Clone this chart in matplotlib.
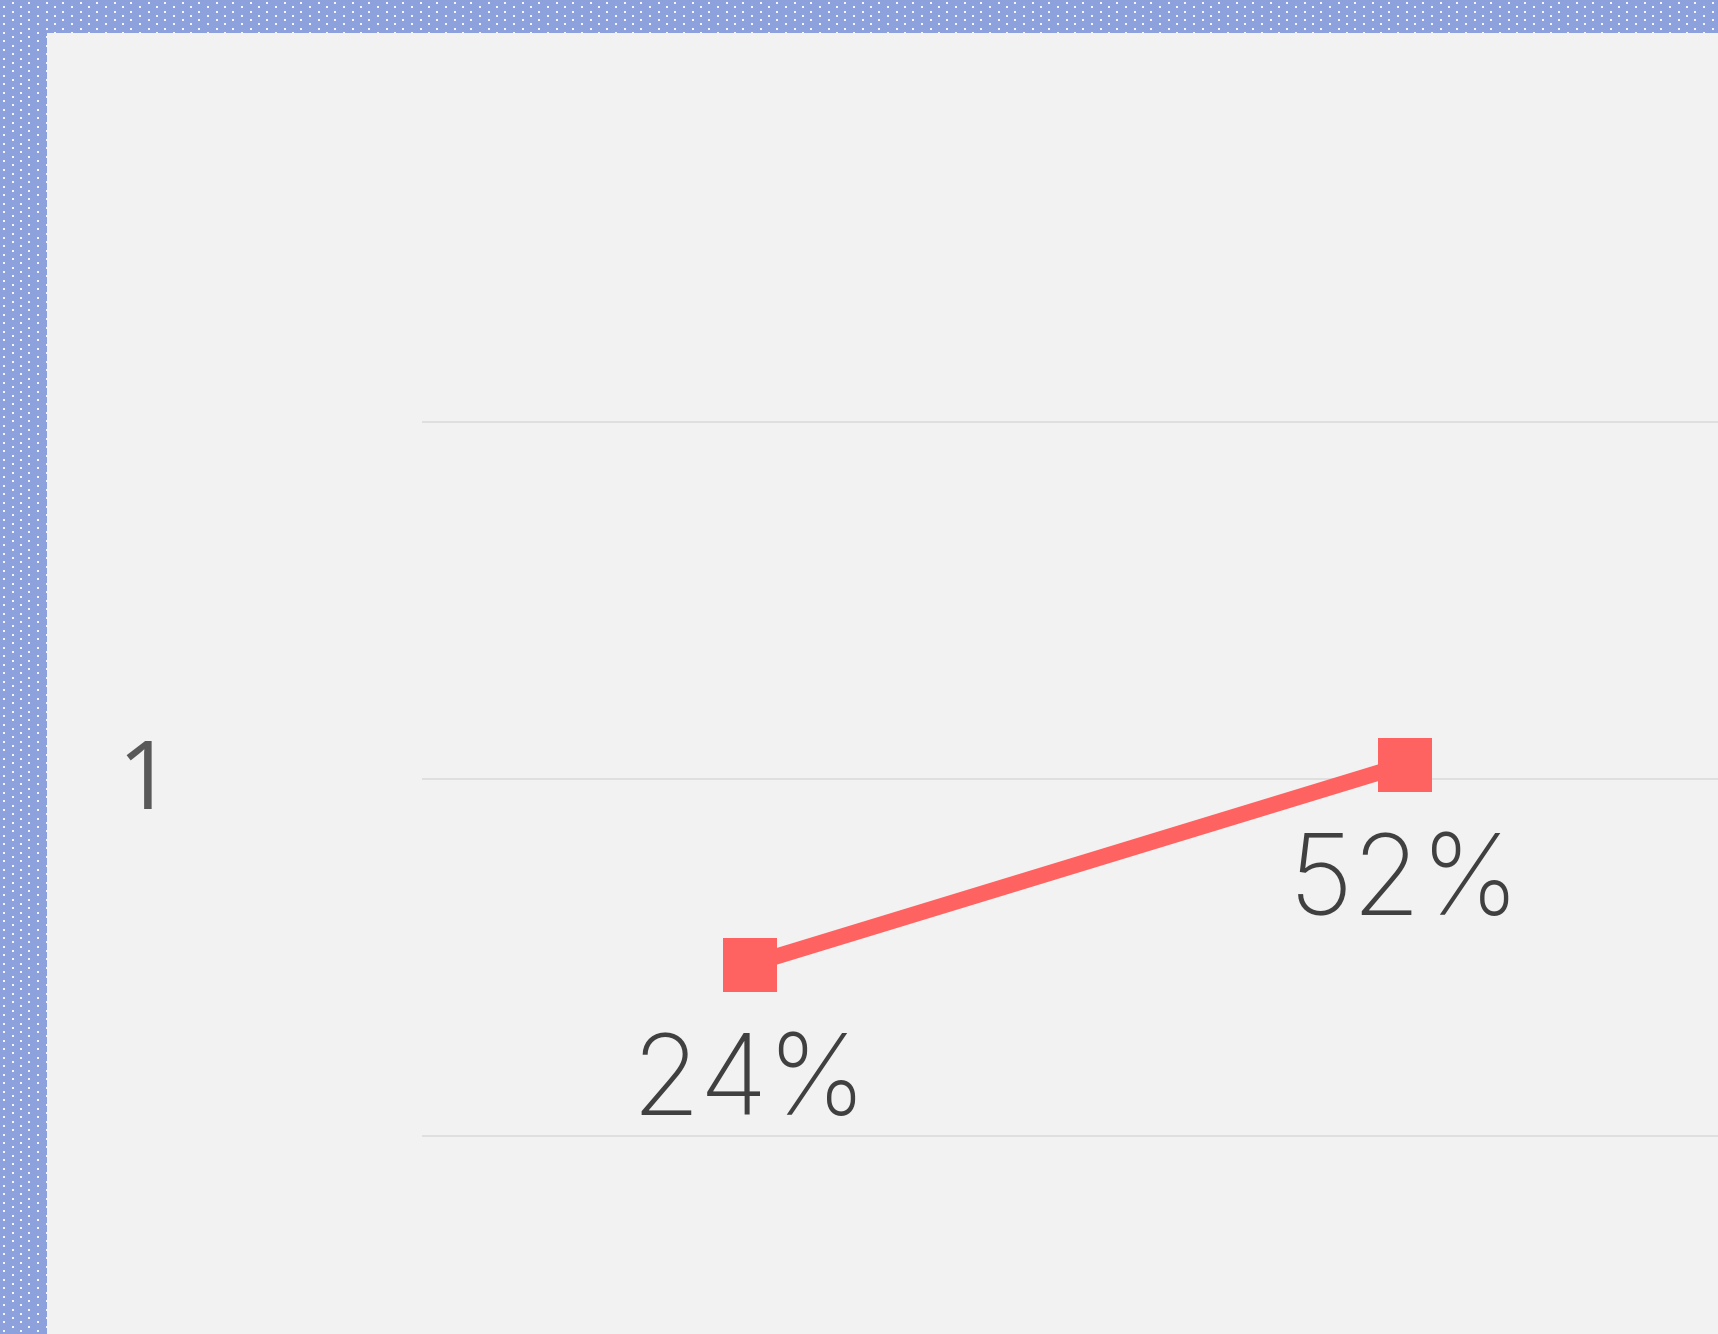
import matplotlib

matplotlib.use("Agg")

import matplotlib.pyplot as plt
import numpy as np
from matplotlib.transforms import ScaledTranslation

plt.rcParams["font.family"] = ["Open Sans", "DejaVu Sans"]

# data
categories = ["A", "B"]
values = [0.24, 0.52]
value_labels = ["24%", "52%"]
y_ticks = [0.0, 0.5, 1.0]
y_tick_labels = ["", "1", ""]

W, H, DPI = 1718, 1334, 100
LINE_RED = "#ff6361"
BORDER_BLUE = (0x8D, 0xA1, 0xDD)
DOT_WHITE = (0xF4, 0xF6, 0xFC)
PANEL_GREY = (0xF2, 0xF2, 0xF2)


def make_backdrop() -> np.ndarray:
    # dotted blue frame with the grey panel cut out of it
    img = np.empty((H, W, 3), dtype=np.uint8)
    img[:] = BORDER_BLUE
    for i, y in enumerate(np.arange(2.0, H, 4.27)):
        start = 11.5 if i % 2 == 0 else 3.0
        yi = int(round(y))
        for x in np.arange(start, W, 17.0):
            xi = int(round(x))
            img[yi:yi + 2, xi:xi + 2] = DOT_WHITE
    img[33:, 47:] = PANEL_GREY
    return img


fig = plt.figure(figsize=(W / DPI, H / DPI), dpi=DPI)
fig.figimage(make_backdrop(), xo=0, yo=0, zorder=-10)

ax = fig.add_axes([422 / W, 0, 1 - 422 / W, (H - 33) / H])
ax.set_facecolor("none")

x = np.arange(len(categories))
ax.plot(x, values, color=LINE_RED, lw=11.5, marker="s", ms=39, mew=0,
        solid_capstyle="butt", zorder=3)

for xi, v, label in zip(x, values, value_labels):
    ax.annotate(label, (xi, v), xytext=(0, -108), textcoords="offset points",
                ha="center", va="baseline", fontsize=80, color="#404040",
                fontfamily="Inter", fontweight="light")

ax.set_xlim(-0.5, -0.5 + (W - 422) / 655)
ax.set_ylim((1136 - H) / 714, (1136 - 33) / 714)

ax.set_yticks(y_ticks)
ax.set_yticklabels(y_tick_labels)
ax.set_xticks([])
ax.tick_params(axis="y", length=0, pad=180, labelsize=69, labelcolor="#595959")
ax.grid(axis="y", color="#dcdcdc", lw=1.2)
ax.set_axisbelow(True)
for spine in ax.spines.values():
    spine.set_visible(False)

# nudge the tick label up a little to sit like the original
lift = ScaledTranslation(0, 6 / DPI, fig.dpi_scale_trans)
for lab in ax.get_yticklabels():
    lab.set_transform(lab.get_transform() + lift)

fig.savefig("out.png", dpi=DPI)
